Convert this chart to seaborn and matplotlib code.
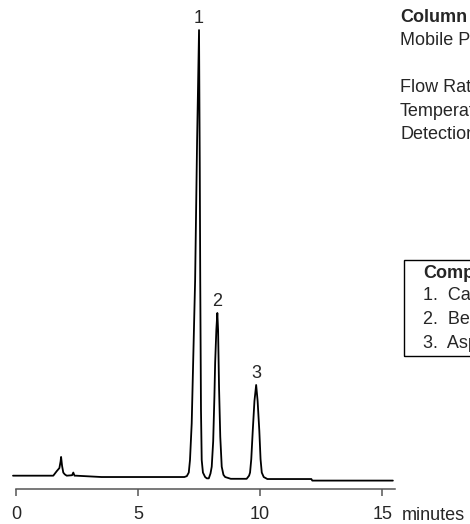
import matplotlib
matplotlib.use("Agg")
import matplotlib.pyplot as plt
import seaborn as sns
import pandas as pd
from matplotlib.patches import Rectangle

# Chromatogram trace (time in minutes, signal in % of peak 1)
time_min = [-0.12, 1.53, 1.67, 1.78, 1.83, 1.85, 1.89, 1.94, 2.00, 2.08, 2.30, 2.35, 2.40, 2.46, 3.50, 6.90,
            7.00, 7.08, 7.13, 7.20, 7.27, 7.34, 7.42, 7.50, 7.53, 7.55, 7.58, 7.61, 7.66, 7.75, 7.82,
            7.90, 7.97, 8.02, 8.08, 8.13, 8.16, 8.21, 8.25, 8.28, 8.32, 8.37, 8.43, 8.50, 8.57, 8.80,
            9.45, 9.55, 9.59, 9.64, 9.70, 9.77, 9.84, 9.90, 9.97, 10.02, 10.07, 10.15, 10.30,
            12.10, 12.14, 15.44]
signal = [0.3, 0.3, 1.3, 2.0, 3.5, 4.5, 2.5, 1.0, 0.6, 0.3, 0.4, 1.0, 0.3, 0.3, 0.0, 0.0,
          0.2, 1.0, 3.8, 12, 28, 44, 75, 100, 70, 44, 15, 3.8, 1.0, 0.0, -0.3,
          -0.3, 0.8, 2.3, 8, 18, 25.5, 33, 36.7, 33, 20, 9, 2.3, 0.5, 0.0, -0.4,
          -0.4, 0.3, 1.0, 4, 10.3, 17, 20.6, 17, 10.3, 4, 1.0, 0.0, -0.45,
          -0.45, -0.8, -0.8]

peak_labels = ["1", "2", "3"]
peak_times = [7.50, 8.25, 9.84]
peak_heights = [100, 36.7, 20.6]

x_ticks = [0, 5, 10, 15]

conditions = ["Column", "Mobile Phase:", "", "Flow Rate:", "Temperature:", "Detection:"]
compounds = ["1.  Caffeine", "2.  Benzoic acid", "3.  Aspirin"]

sns.set_style("white")
plt.rcParams["font.family"] = ["Liberation Sans", "DejaVu Sans"]
FS = 13

fig = plt.figure(figsize=(4.70, 5.24), dpi=100)
ax = fig.add_axes([0.0131, 0.0662, 0.8415, 0.9242])

df = pd.DataFrame({"time": time_min, "signal": signal})
sns.lineplot(data=df, x="time", y="signal", sort=False, estimator=None,
             color="black", linewidth=1.3, ax=ax)

for lab, t, h in zip(peak_labels, peak_times, peak_heights):
    ax.annotate(lab, (t, h), xytext=(0, 2), textcoords="offset points",
                ha="center", va="bottom", fontsize=FS)

ax.set_xlim(-0.4, 15.8)
ax.set_ylim(-2.75, 105.6)
for s in ["top", "right", "left"]:
    ax.spines[s].set_visible(False)
ax.spines["bottom"].set_color("#555555")
ax.spines["bottom"].set_linewidth(1.1)
ax.spines["bottom"].set_bounds(0, 15.53)
ax.set_xticks(x_ticks)
ax.set_yticks([])
ax.tick_params(axis="x", direction="out", length=5, width=1.1, color="#555555",
               labelsize=FS, pad=7, bottom=True)
ax.set_xlabel("")
ax.set_ylabel("")

fig.text(402 / 470, 1 - 515 / 524, "minutes", ha="left", va="center", fontsize=FS)

# conditions block on the right (cut by the figure edge)
y0 = 1 - 17 / 524
for i, line in enumerate(conditions):
    fig.text(400 / 470, y0 - i * (23.5 / 524), line, ha="left", va="center", fontsize=FS,
             fontweight="bold" if i == 0 else "normal")

# compounds box
fig.add_artist(Rectangle((404 / 470, 1 - 356 / 524), 0.3, 96 / 524, transform=fig.transFigure,
                         facecolor="none", edgecolor="black", linewidth=1.0))
fig.text(423 / 470, 1 - 273 / 524, "Compounds", ha="left", va="center", fontsize=FS,
         fontweight="bold")
for i, line in enumerate(compounds):
    fig.text(423 / 470, 1 - (296 + i * 23.5) / 524, line, ha="left", va="center", fontsize=FS)

fig.savefig("out.png", dpi=100)
